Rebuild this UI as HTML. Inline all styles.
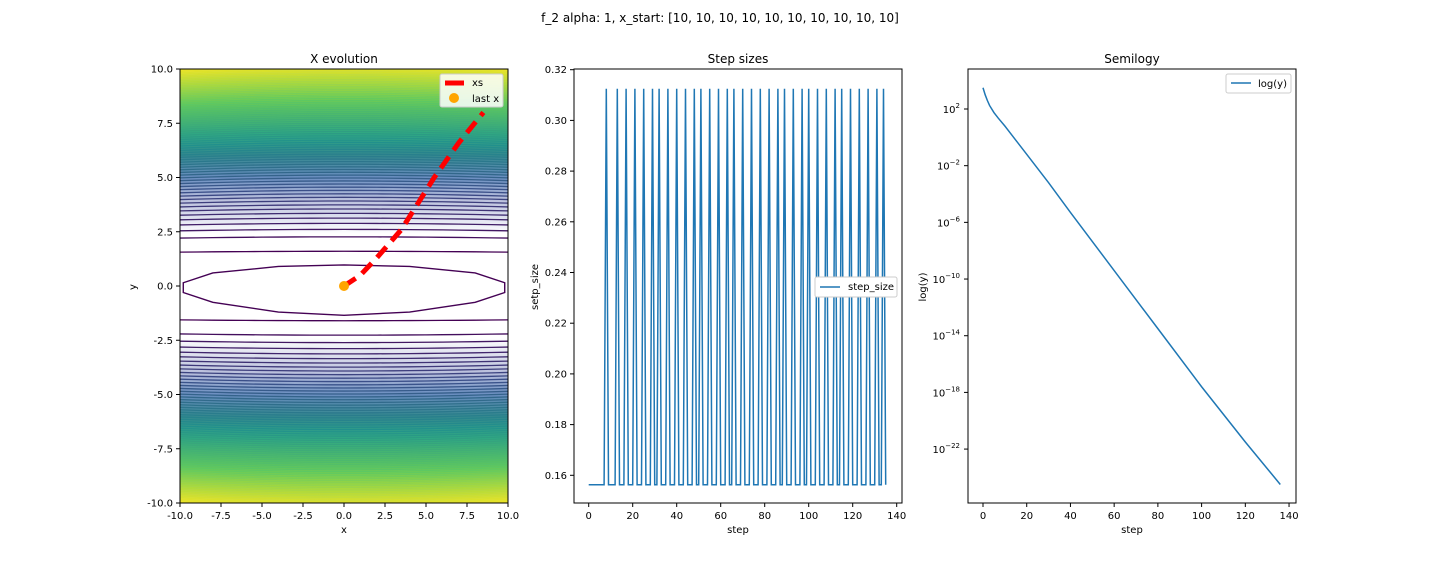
<!DOCTYPE html>
<html><head><meta charset="utf-8">
<style>
body{margin:0;background:#fff;font-family:"Liberation Sans","DejaVu Sans",sans-serif;}
svg text{font-family:"DejaVu Sans","Liberation Sans",sans-serif;fill:#000;}
</style></head>
<body>
<svg id="fig" width="1440" height="576" viewBox="0 0 1440 576" xmlns="http://www.w3.org/2000/svg">
<defs>
<linearGradient id="bg1" x1="0" y1="0" x2="0" y2="1">
<stop offset="0" stop-color="#e6e41b"/>
<stop offset="0.04" stop-color="#a8db34"/>
<stop offset="0.09" stop-color="#5cc35f"/>
<stop offset="0.15" stop-color="#2fa984"/>
<stop offset="0.2" stop-color="#35888f"/>
<stop offset="0.25" stop-color="#6a8ec0"/>
<stop offset="0.3" stop-color="#b9bfdc"/>
<stop offset="0.38" stop-color="#ffffff"/>
<stop offset="0.62" stop-color="#ffffff"/>
<stop offset="0.7" stop-color="#b9bfdc"/>
<stop offset="0.75" stop-color="#6a8ec0"/>
<stop offset="0.8" stop-color="#35888f"/>
<stop offset="0.85" stop-color="#2fa984"/>
<stop offset="0.91" stop-color="#5cc35f"/>
<stop offset="0.96" stop-color="#a8db34"/>
<stop offset="1" stop-color="#e6e41b"/>
</linearGradient>
</defs>
<rect width="1440" height="576" fill="#fff"/>
<text x="720" y="22" font-size="12" text-anchor="middle">f_2 alpha: 1, x_start: [10, 10, 10, 10, 10, 10, 10, 10, 10, 10]</text>
<g id="p1"></g>
<g id="p2"></g>
<g id="p3"></g>
</svg>
<script>
// ---- data ----
const pathX = [0, 1, 2, 3.5, 5.5, 7, 8.5];
const pathY = [0, 0.5, 1.3, 2.6, 5.0, 6.6, 8.0];
const lastX = [0, 0];
const contourCount = 75;
const spikeSteps = [8,13,17,21,25,29,32,36,40,44,48,51,55,59,63,66,70,74,78,82,86,89,93,97,100,104,108,112,115,119,123,127,131,134];
const nSteps = 136;
const stepLow = 0.15625, stepHigh = 0.3125;
const logSteps = [0,1,2,3,5,7,10,15,20,30,40,60,80,100,120,136];
const logVals  = [3.5,3.0,2.6,2.25,1.75,1.35,0.8,-0.2,-1.2,-3.2,-5.3,-9.4,-13.5,-17.6,-21.5,-24.5];
const p1XTicks=[-10,-7.5,-5,-2.5,0,2.5,5,7.5,10];
const p1YTicks=[-10,-7.5,-5,-2.5,0,2.5,5,7.5,10];
const p2XTicks=[0,20,40,60,80,100,120,140];
const p2YTicks=[0.16,0.18,0.20,0.22,0.24,0.26,0.28,0.30,0.32];
const p3XTicks=[0,20,40,60,80,100,120,140];
const p3YTicks=[2,-2,-6,-10,-14,-18,-22];

const NS="http://www.w3.org/2000/svg";
function el(tag,attrs,parent,txt){const e=document.createElementNS(NS,tag);for(const k in attrs)e.setAttribute(k,attrs[k]);if(txt!==undefined)e.textContent=txt;parent.appendChild(e);return e;}
function viridis(t){const c=[[68,1,84],[59,82,139],[33,145,140],[94,201,98],[253,231,37]];t=Math.max(0,Math.min(1,t))*4;const i=Math.min(3,Math.floor(t)),f=t-i;const a=c[i],b=c[i+1];return `rgb(${a.map((v,j)=>Math.round(v+(b[j]-v)*f)).join(',')})`;}

function axesFrame(g,L,T,R,B,name){
  const r=el('rect',{x:L,y:T,width:R-L,height:B-T,fill:'none',stroke:'#000','stroke-width':1},g);
  
}
function xTicks(g,ticks,sx,B,fmt,name){
  ticks.forEach(v=>{const x=sx(v);
    const l=el('line',{x1:x,x2:x,y1:B,y2:B+4,stroke:'#000'},g);
    const t=el('text',{x:x,y:B+16,'font-size':10,'text-anchor':'middle'},g,fmt(v));});
}
function yTicks(g,ticks,sy,L,fmt,name){
  ticks.forEach(v=>{const y=sy(v);
    const l=el('line',{x1:L-4,x2:L,y1:y,y2:y,stroke:'#000'},g);
    const t=el('text',{x:L-7,y:y+3.5,'font-size':10,'text-anchor':'end'},g,fmt(v));});
}
function label(g,x,y,txt,name,rot,size){const t=el('text',{x:x,y:y,'font-size':size||10,'text-anchor':'middle'},g,txt);if(rot)t.setAttribute('transform',`rotate(-90 ${x} ${y})`);return t;}

// ---- Panel 1 ----
(function(){
  const g=document.getElementById('p1');const L=180,R=508,T=69,B=503;
  const sx=v=>L+(v+10)/20*(R-L), sy=v=>B-(v+10)/20*(B-T);
  el('clipPath',{id:'c1'},g);el('rect',{x:L,y:T,width:R-L,height:B-T},g.lastChild);
  const cg=el('g',{'clip-path':'url(#c1)'},g);
  const bgr=el('rect',{x:L,y:T,width:R-L,height:B-T,fill:'url(#bg1)'},cg);
  
  for(let k=0;k<contourCount;k++){
    const t=k/(contourCount-1), yc=1.6+8.8*Math.pow(t,0.6);
    [1,-1].forEach(s=>{let d='';for(let i=0;i<=24;i++){const x=-12+i;const y=s*yc*(1-0.025*(x/10)*(x/10));d+=(i?'L':'M')+sx(x)+','+sy(y);}
      const p=el('path',{d:d,fill:'none',stroke:viridis(Math.pow(t,0.75)),'stroke-width':1.3},cg);
      });
  }
  const inner=[[-9.8,0.15],[-8,0.6],[-4,0.9],[0,0.97],[4,0.9],[8,0.6],[9.8,0.15],[9.8,-0.3],[8,-0.75],[4,-1.2],[0,-1.35],[-4,-1.2],[-8,-0.75],[-9.8,-0.3]];
  const ip=el('path',{d:inner.map((p,i)=>(i?'L':'M')+sx(p[0])+','+sy(p[1])).join('')+'Z',fill:'none',stroke:viridis(0),'stroke-width':1.4},cg);
  
  const pp=el('path',{d:pathX.map((x,i)=>(i?'L':'M')+sx(x)+','+sy(pathY[i])).join(''),fill:'none',stroke:'#ff0000','stroke-width':5,'stroke-dasharray':'14 8'},cg);
  
  const lc=el('circle',{cx:sx(lastX[0]),cy:sy(lastX[1]),r:5,fill:'orange'},cg);
  axesFrame(g,L,T,R,B,'x-evolution');
  xTicks(g,p1XTicks,sx,B,v=>v.toFixed(1),'x-evolution');
  yTicks(g,p1YTicks,sy,L,v=>v.toFixed(1),'x-evolution');
  label(g,(L+R)/2,63,'X evolution','x-evolution-title',0,12);
  label(g,(L+R)/2,533,'x','x-evolution-x-label');
  label(g,136,287,'y','x-evolution-y-label',true);
  const lg=el('g',{},g);
  el('rect',{x:440,y:74,width:63,height:33,rx:2,fill:'#fff','fill-opacity':0.85,stroke:'#ccc'},lg);
  el('line',{x1:445,x2:464,y1:83,y2:83,stroke:'red','stroke-width':5},lg);
  el('text',{x:472,y:86,'font-size':10},lg,'xs');
  el('circle',{cx:454,cy:98,r:5,fill:'orange'},lg);
  el('text',{x:472,y:102,'font-size':10},lg,'last x');
})();

// ---- Panel 2 ----
(function(){
  const g=document.getElementById('p2');const L=574,R=902,T=69,B=503;
  const sx=v=>588.7+v*2.2, sy=v=>475.3-(v-0.16)/0.01*25.35;
  const vals=[];for(let i=0;i<nSteps;i++)vals.push(spikeSteps.includes(i)?stepHigh:stepLow);
  const p=el('path',{d:vals.map((v,i)=>(i?'L':'M')+sx(i)+','+sy(v)).join(''),fill:'none',stroke:'#1f77b4','stroke-width':1.5},g);
  
  axesFrame(g,L,T,R,B,'step-sizes');
  xTicks(g,p2XTicks,sx,B,v=>String(v),'step-sizes');
  yTicks(g,p2YTicks,sy,L,v=>v.toFixed(2),'step-sizes');
  label(g,(L+R)/2,63,'Step sizes','step-sizes-title',0,12);
  label(g,(L+R)/2,533,'step','step-sizes-x-label');
  label(g,538,287,'setp_size','step-sizes-y-label',true);
  const lg=el('g',{},g);
  el('rect',{x:815,y:277,width:82,height:20,rx:2,fill:'#fff',stroke:'#ccc'},lg);
  el('line',{x1:820,x2:840,y1:287,y2:287,stroke:'#1f77b4','stroke-width':1.5},lg);
  el('text',{x:848,y:290,'font-size':10},lg,'step_size');
})();

// ---- Panel 3 ----
(function(){
  const g=document.getElementById('p3');const L=968,R=1296,T=69,B=503;
  const sx=v=>983+v*2.186, sy=v=>109-(v-2)*14.17;
  const p=el('path',{d:logSteps.map((s,i)=>(i?'L':'M')+sx(s)+','+sy(logVals[i])).join(''),fill:'none',stroke:'#1f77b4','stroke-width':1.5},g);
  
  axesFrame(g,L,T,R,B,'semilogy');
  xTicks(g,p3XTicks,sx,B,v=>String(v),'semilogy');
  p3YTicks.forEach(v=>{const y=sy(v);
    const l=el('line',{x1:L-4,x2:L,y1:y,y2:y,stroke:'#000'},g);
    const t=el('text',{x:L-8,y:y+4,'font-size':10,'text-anchor':'end'},g);
    t.appendChild(document.createTextNode('10'));
    el('tspan',{dy:-5,'font-size':7},t,v<0?'\u2212'+(-v):String(v));
  });
  label(g,(L+R)/2,63,'Semilogy','semilogy-title',0,12);
  label(g,(L+R)/2,533,'step','semilogy-x-label');
  label(g,926,287,'log(y)','semilogy-y-label',true);
  const lg=el('g',{},g);
  el('rect',{x:1226,y:74,width:65,height:19,rx:2,fill:'#fff',stroke:'#ccc'},lg);
  el('line',{x1:1231,x2:1251,y1:83,y2:83,stroke:'#1f77b4','stroke-width':1.5},lg);
  el('text',{x:1258,y:87,'font-size':10},lg,'log(y)');
})();
</script>
</body></html>
